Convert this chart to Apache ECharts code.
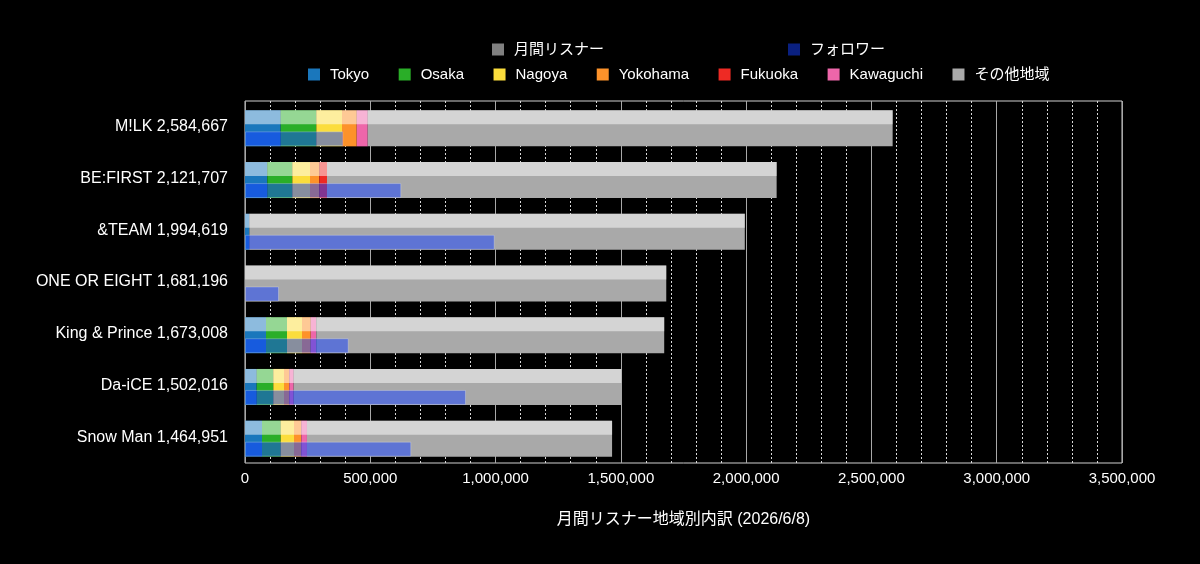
<!DOCTYPE html>
<html>
<head>
<meta charset="utf-8">
<title>月間リスナー地域別内訳</title>
<script src="https://cdn.jsdelivr.net/npm/echarts@6/dist/echarts.min.js"></script>
<style>
    html, body { margin: 0; padding: 0; background: #000; }
    #chart { width: 1200px; height: 564px; }
</style>
</head>
<body>
<div id="chart"></div>
<script>
    // artists and monthly listeners (2026/6/8)
    var categories = ['M!LK', 'BE:FIRST', '&TEAM', 'ONE OR EIGHT', 'King & Prince', 'Da-iCE', 'Snow Man'];
    var totals = [2584667, 2121707, 1994619, 1681196, 1673008, 1502016, 1464951];
    var followers = [392300, 623700, 996400, 135700, 413800, 881900, 663600];

    // listeners by city
    var tokyo = [142500, 89000, 17200, 0, 83800, 46700, 67800];
    var osaka = [142100, 99800, 0, 0, 83800, 66200, 74600];
    var nagoya = [102600, 70600, 0, 0, 59900, 42700, 53100];
    var yokohama = [58700, 37100, 0, 0, 34700, 21100, 29100];
    var fukuoka = [0, 30700, 0, 0, 0, 0, 0];
    var kawaguchi = [43900, 0, 0, 0, 22300, 17600, 22700];
    var others = [2094867, 1794507, 1977419, 1681196, 1388508, 1307716, 1217651];

    var xTicks = [0, 500000, 1000000, 1500000, 2000000, 2500000, 3000000, 3500000];

    var font = "'Liberation Sans', 'Noto Sans CJK JP', sans-serif";
    var zeros = categories.map(function () { return 0; });

    var regions = [
        {name: 'Tokyo', data: tokyo, color: '#1a77bc'},
        {name: 'Osaka', data: osaka, color: '#2aae28'},
        {name: 'Nagoya', data: nagoya, color: '#fbdd3c'},
        {name: 'Yokohama', data: yokohama, color: '#fd922a'},
        {name: 'Fukuoka', data: fukuoka, color: '#ee2a24'},
        {name: 'Kawaguchi', data: kawaguchi, color: '#ee66aa'},
        {name: 'その他地域', data: others, color: '#a9a9a9'}
    ];

    function spacer(axisIndex, width) {
        return {
            type: 'bar', yAxisIndex: axisIndex, data: zeros, barWidth: width,
            barGap: 0, silent: true, itemStyle: {color: 'rgba(0,0,0,0)'}
        };
    }

    var series = [spacer(0, 3)];
    regions.forEach(function (r) {
        series.push({
            name: r.name, type: 'bar', yAxisIndex: 0, stack: 'region',
            data: r.data, barWidth: 36, barGap: 0,
            itemStyle: {color: r.color}
        });
    });
    series.push(spacer(1, 3));
    series.push({
        name: '月間リスナー', type: 'bar', yAxisIndex: 1, data: totals,
        barWidth: 14, barGap: 0, itemStyle: {color: 'rgba(255,255,255,0.5)'}
    });
    series.push(spacer(1, 7));
    series.push({
        name: 'フォロワー', type: 'bar', yAxisIndex: 1, data: followers,
        barWidth: 15, barGap: 0,
        itemStyle: {color: 'rgba(20,64,255,0.5)', borderColor: 'rgba(255,255,255,0.25)', borderWidth: 1}
    });

    var chart = echarts.init(document.getElementById('chart'));
    var legendText = {color: '#fff', fontSize: 15, fontFamily: font, padding: [0, 0, 0, 5]};
    chart.setOption({
        backgroundColor: '#000',
        animation: false,
        legend: [
            {
                data: ['月間リスナー', 'フォロワー'],
                left: 487, top: 37, itemGap: 184,
                itemWidth: 12, itemHeight: 12, icon: 'rect',
                itemStyle: {borderWidth: 0},
                textStyle: legendText
            },
            {
                data: regions.map(function (r) { return r.name; }),
                left: 303, top: 62, itemGap: 29.5,
                itemWidth: 12, itemHeight: 12, icon: 'rect',
                itemStyle: {borderWidth: 0},
                textStyle: legendText
            }
        ],
        grid: {
            left: 245, right: 78, top: 101, bottom: 101,
            show: true, borderColor: '#d0d0d0', borderWidth: 1
        },
        xAxis: {
            type: 'value', min: xTicks[0], max: xTicks[xTicks.length - 1], interval: 500000,
            name: '月間リスナー地域別内訳 (2026/6/8)', nameLocation: 'middle', nameGap: 49,
            nameTextStyle: {color: '#fff', fontSize: 16, fontFamily: font},
            axisLine: {show: false}, axisTick: {show: false},
            axisLabel: {
                color: '#fff', fontSize: 15, fontFamily: font, margin: 8,
                formatter: function (v) { return v.toLocaleString('en-US'); }
            },
            splitLine: {lineStyle: {color: '#a8a8a8', width: 1}},
            minorTick: {show: false, splitNumber: 5},
            minorSplitLine: {show: true, lineStyle: {color: '#d8d8d8', type: [2, 2], width: 1}}
        },
        yAxis: [
            {
                type: 'category', data: categories, inverse: true,
                axisLine: {show: false}, axisTick: {show: false},
                axisLabel: {
                    color: '#fff', fontSize: 16, fontFamily: font, margin: 17,
                    formatter: function (v, i) { return v + ' ' + totals[i].toLocaleString('en-US'); }
                }
            },
            {
                type: 'category', data: categories, inverse: true, position: 'left',
                axisLine: {show: false}, axisTick: {show: false}, axisLabel: {show: false}
            }
        ],
        series: series
    });
</script>
</body>
</html>
